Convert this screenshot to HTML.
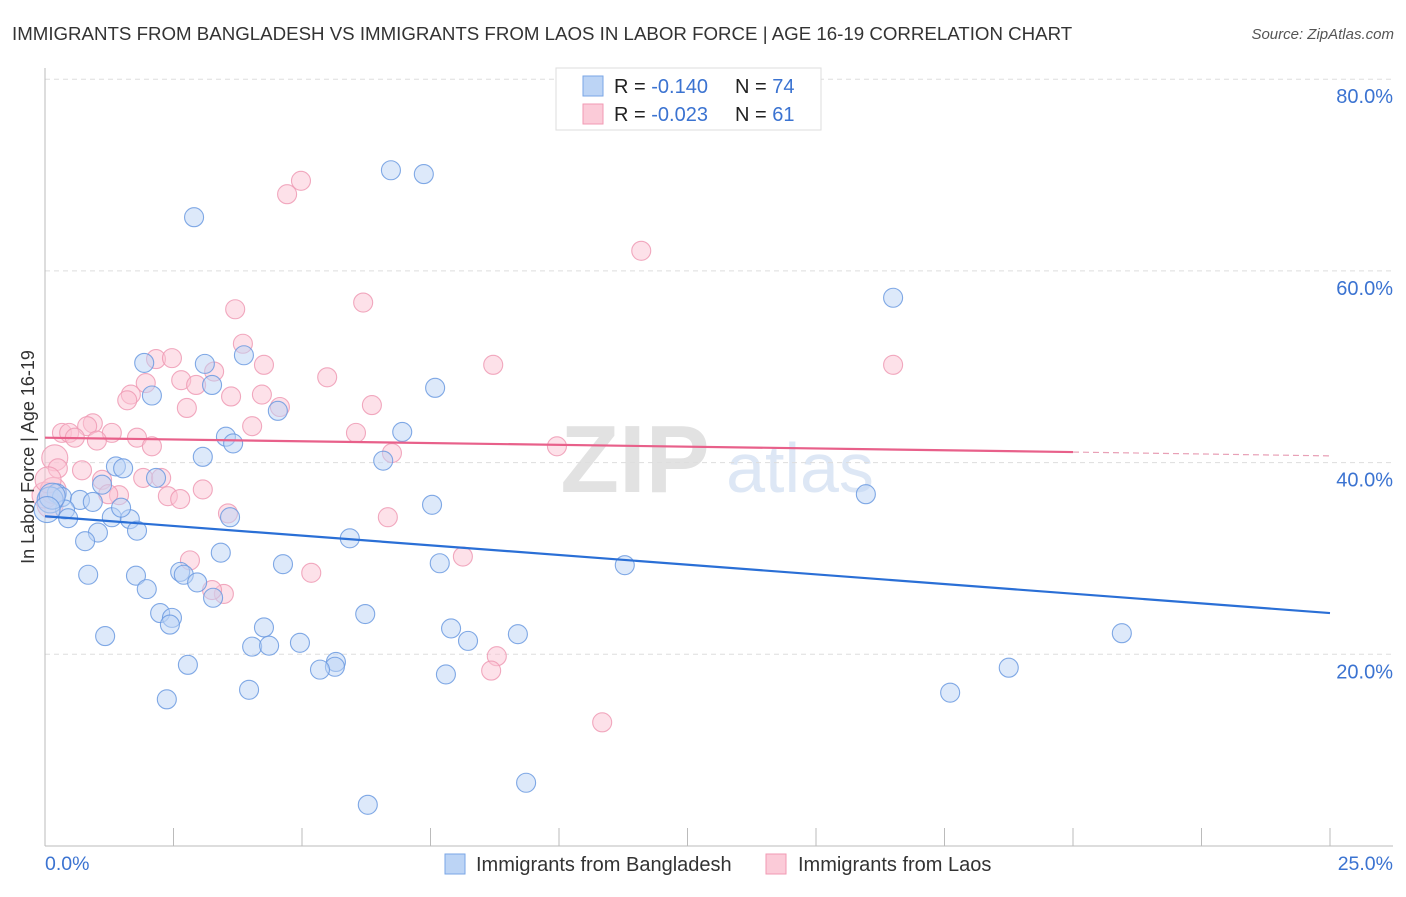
<!DOCTYPE html>
<html><head><meta charset="utf-8"><style>
body{margin:0;background:#fff;font-family:"Liberation Sans",sans-serif;}
svg text{font-family:"Liberation Sans",sans-serif;}
</style></head><body>
<svg id="chart" width="1406" height="892" xmlns="http://www.w3.org/2000/svg">
<text x="12" y="40" font-size="18.7" fill="#333">IMMIGRANTS FROM BANGLADESH VS IMMIGRANTS FROM LAOS IN LABOR FORCE | AGE 16-19 CORRELATION CHART</text>
<text x="1394" y="39" font-size="15" fill="#555" font-style="italic" text-anchor="end">Source: ZipAtlas.com</text>
<text x="635" y="492" font-size="96" fill="#e2e2e2" font-family="Liberation Serif" text-anchor="middle" font-weight="bold">ZIP</text>
<text x="800" y="492" font-size="70" fill="#dde7f5" text-anchor="middle">atlas</text>
<g id="grid"></g><g id="axes"></g><g id="pts"></g><g id="lines"></g>
<g>
<rect x="556" y="68" width="265" height="62" fill="#fff" stroke="#ddd"/>
<rect x="583" y="76" width="20" height="20" fill="#bcd4f5" stroke="#7aa6e6"/>
<rect x="583" y="104" width="20" height="20" fill="#fbcbd8" stroke="#f19ab3"/>
<text x="614" y="93" font-size="20" fill="#222">R = <tspan fill="#3b73d1"> -0.140</tspan><tspan x="735">N = </tspan><tspan fill="#3b73d1">74</tspan></text>
<text x="614" y="121" font-size="20" fill="#222">R = <tspan fill="#3b73d1">-0.023</tspan><tspan x="735">N = </tspan><tspan fill="#3b73d1"> 61</tspan></text>
</g>
<g>
<rect x="445" y="854" width="20" height="20" fill="#bcd4f5" stroke="#7aa6e6"/>
<text x="476" y="871" font-size="20" fill="#333">Immigrants from Bangladesh</text>
<rect x="766" y="854" width="20" height="20" fill="#fbcbd8" stroke="#f19ab3"/>
<text x="798" y="871" font-size="20" fill="#333">Immigrants from Laos</text>
</g>
<text x="45" y="870" font-size="19.5" fill="#3b73d1">0.0%</text>
<text x="1393" y="870" font-size="19.5" fill="#3b73d1" text-anchor="end">25.0%</text>
<text transform="translate(34,457) rotate(-90)" font-size="18" fill="#333" text-anchor="middle">In Labor Force | Age 16-19</text>
</svg>
<script>
const yTicks=[20,40,60,80];
const yTickLabels=["20.0%","40.0%","60.0%","80.0%"];
const blueX=[2.90,6.73,7.37,16.50,1.93,3.11,3.87,2.08,3.25,7.59,4.53,3.52,3.66,6.95,3.07,6.58,1.38,1.52,2.16,1.11,0.23,0.33,0.68,0.93,0.39,0.45,1.30,1.65,1.48,3.60,7.53,15.97,1.79,1.03,0.78,5.93,3.42,4.63,7.68,11.28,0.84,1.77,2.63,2.70,2.96,1.98,3.27,2.24,2.47,2.43,6.23,4.26,7.90,9.20,20.95,1.17,4.96,8.23,4.03,4.36,5.66,5.64,5.35,2.78,7.80,18.75,3.97,17.61,2.37,9.36,6.28,0.10,0.14,0.04];
const blueY=[65.6,70.5,70.1,57.2,50.4,50.3,51.2,47.0,48.1,47.8,45.4,42.7,42.0,43.2,40.6,40.2,39.6,39.4,38.4,37.7,36.8,36.4,36.1,35.9,35.1,34.2,34.3,34.1,35.3,34.3,35.6,36.7,32.9,32.7,31.8,32.1,30.6,29.4,29.5,29.3,28.3,28.2,28.6,28.3,27.5,26.8,25.9,24.3,23.8,23.1,24.2,22.8,22.7,22.1,22.2,21.9,21.2,21.4,20.8,20.9,19.2,18.7,18.4,18.9,17.9,18.6,16.3,16.0,15.3,6.6,4.3,36.1,36.5,35.1];
const pinkX=[4.98,4.71,11.60,6.19,3.70,3.85,2.16,2.47,4.26,8.72,16.50,3.29,5.49,2.65,1.96,2.94,1.67,1.60,3.62,4.22,6.36,2.76,4.57,0.93,0.82,0.33,0.47,0.58,1.30,1.01,1.79,2.08,4.03,6.05,9.96,6.75,0.19,0.25,0.72,1.11,1.91,2.26,3.07,1.44,2.39,1.23,2.63,3.56,6.67,2.82,8.13,5.18,3.48,3.25,8.79,8.68,10.84,0.10,0.00,0.16,0.06];
const pinkY=[69.4,68.0,62.1,56.7,56.0,52.4,50.8,50.9,50.2,50.2,50.2,49.5,48.9,48.6,48.3,48.1,47.1,46.5,46.9,47.1,46.0,45.7,45.8,44.1,43.8,43.1,43.1,42.6,43.1,42.3,42.6,41.7,43.8,43.1,41.7,41.0,40.5,39.4,39.2,38.2,38.4,38.4,37.2,36.6,36.5,36.7,36.2,34.7,34.3,29.8,30.2,28.5,26.3,26.7,19.8,18.3,12.9,35.6,36.6,37.1,38.2];
const blueTrend=[34.4,24.3];
const pinkTrend=[42.6,41.1,40.7];
const X=v=>45+v*51.4, Y=v=>846-v*9.585;
const NS="http://www.w3.org/2000/svg";
function mk(p,t,a){const e=document.createElementNS(NS,t);for(const k in a)e.setAttribute(k,a[k]);document.getElementById(p).appendChild(e);return e;}
yTicks.forEach((t,i)=>{
 const l=mk('grid','line',{x1:45,x2:1393,y1:Y(t),y2:Y(t),stroke:'#ddd','stroke-dasharray':'5,4'});
 
 
 const tx=mk('grid','text',{x:1393,y:Y(t)+24,'font-size':20,fill:'#3b73d1','text-anchor':'end'});
 tx.textContent=yTickLabels[i];
 
 
});
const ax=mk('axes','line',{x1:45,x2:45,y1:68,y2:846,stroke:'#bbb'});


const xa=mk('axes','line',{x1:45,x2:1393,y1:846,y2:846,stroke:'#bbb'});


for(let i=1;i<=10;i++){const t=mk('axes','line',{x1:X(i*2.5),x2:X(i*2.5),y1:828,y2:846,stroke:'#bbb'});
 
 }
function pts(xs,ys,fill,stroke,name){xs.forEach((x,i)=>{
 const r=x<0.2?13:9.5;
 const c=mk('pts','circle',{cx:X(x),cy:Y(ys[i]),r:r,fill:fill,'fill-opacity':0.5,stroke:stroke,'stroke-opacity':0.85,'stroke-width':1.1});
 
 });}
pts(pinkX,pinkY,'#fbc4d3','#ee9ab4','point-laos');
pts(blueX,blueY,'#bcd4f5','#6b9ae0','point-bangladesh');
const bl=mk('lines','line',{x1:X(0),y1:Y(blueTrend[0]),x2:X(25),y2:Y(blueTrend[1]),stroke:'#2a6fd6','stroke-width':2.2});


const pl=mk('lines','line',{x1:X(0),y1:Y(pinkTrend[0]),x2:X(20),y2:Y(pinkTrend[1]),stroke:'#e8608a','stroke-width':2.2});


const pd=mk('lines','line',{x1:X(20),y1:Y(pinkTrend[1]),x2:X(25),y2:Y(pinkTrend[2]),stroke:'#e8a0b6','stroke-width':1.2,'stroke-dasharray':'6,4'});


</script>
</body></html>
